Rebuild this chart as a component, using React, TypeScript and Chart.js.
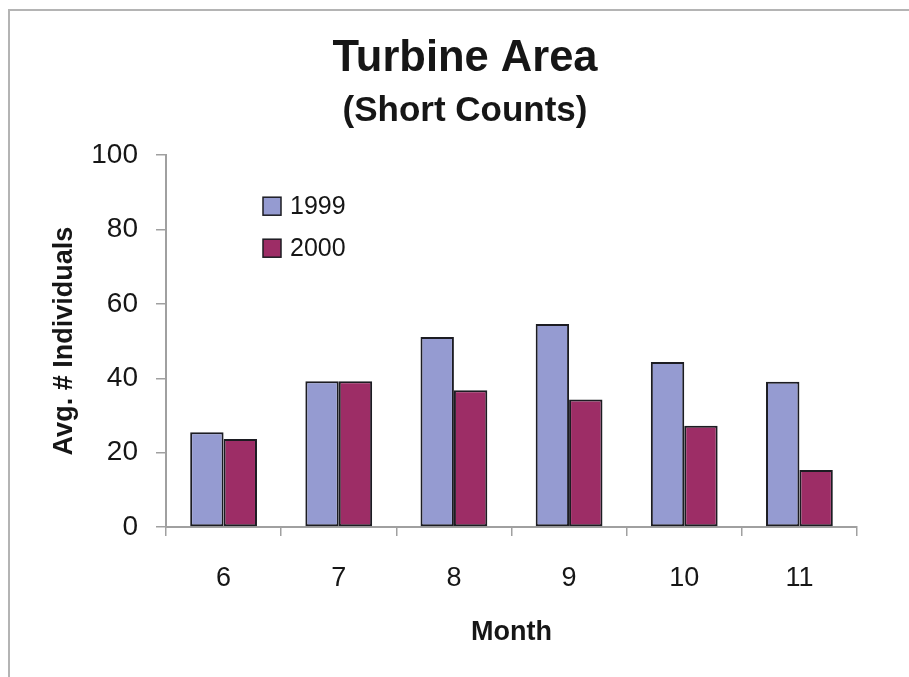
import React, { useEffect, useRef } from "react";
import { Chart, registerables } from "chart.js";

Chart.register(...registerables);

const months = ["6", "7", "8", "9", "10", "11"];
const series1999 = [25.5, 39.2, 51.1, 54.6, 44.4, 39.1];
const series2000 = [23.7, 39.2, 36.8, 34.3, 27.2, 15.3];
const seriesLabels = ["1999", "2000"];
const yTicks = [0, 20, 40, 60, 80, 100];

const FONT = "'Liberation Sans', Arial, Helvetica, sans-serif";
const COLOR_1999 = "#959BD1";
const COLOR_2000 = "#9D2D66";
const BAR_EDGE = "#1c1c22";
const AXIS = "#a0a0a0";
const TEXT = "#161616";

const framePlugin = {
  id: "frame",
  beforeDraw(chart: any) {
    const { ctx, width, height } = chart;
    ctx.save();
    ctx.fillStyle = "#ffffff";
    ctx.fillRect(0, 0, width, height);
    ctx.strokeStyle = "#b4b4b4";
    ctx.lineWidth = 2;
    ctx.beginPath();
    ctx.moveTo(9, height);
    ctx.lineTo(9, 10);
    ctx.lineTo(width, 10);
    ctx.stroke();
    ctx.restore();
  },
};

const legendPlugin = {
  id: "insideLegend",
  afterDraw(chart: any) {
    const { ctx, chartArea } = chart;
    const x0 = chartArea.left + 97;
    const y0 = chartArea.top + 51;
    const rowGap = 42;
    ctx.save();
    ctx.font = `25px ${FONT}`;
    ctx.textBaseline = "middle";
    ctx.textAlign = "left";
    chart.data.datasets.forEach((ds: any, i: number) => {
      const cy = y0 + i * rowGap;
      ctx.fillStyle = ds.backgroundColor;
      ctx.fillRect(x0, cy - 9, 18, 18);
      ctx.strokeStyle = BAR_EDGE;
      ctx.lineWidth = 1.5;
      ctx.strokeRect(x0, cy - 9, 18, 18);
      ctx.fillStyle = TEXT;
      ctx.fillText(ds.label, x0 + 27, cy + 1);
    });
    ctx.restore();
  },
};

export default function App() {
  const ref = useRef<HTMLCanvasElement | null>(null);

  useEffect(() => {
    if (!ref.current) return;
    const chart = new Chart(ref.current, {
      type: "bar",
      data: {
        labels: months,
        datasets: [
          {
            label: seriesLabels[0],
            data: series1999,
            backgroundColor: COLOR_1999,
            borderColor: BAR_EDGE,
            borderWidth: 2,
            borderSkipped: false,
          },
          {
            label: seriesLabels[1],
            data: series2000,
            backgroundColor: COLOR_2000,
            borderColor: BAR_EDGE,
            borderWidth: 2,
            borderSkipped: false,
          },
        ],
      },
      options: {
        responsive: false,
        animation: false,
        devicePixelRatio: 1,
        layout: { padding: { top: 0, right: 0, bottom: 0, left: 21 } },
        datasets: {
          bar: { categoryPercentage: 0.58, barPercentage: 1 },
        },
        plugins: {
          legend: { display: false },
          tooltip: { enabled: false },
          title: {
            display: true,
            text: "Turbine Area",
            color: TEXT,
            font: { family: FONT, size: 43.5, weight: "bold", lineHeight: 1.2 },
            padding: { top: 33, bottom: 5 },
          },
          subtitle: {
            display: true,
            text: "(Short Counts)",
            color: TEXT,
            font: { family: FONT, size: 35, weight: "bold", lineHeight: 1.2 },
            padding: { top: 0, bottom: 23 },
          },
        },
        scales: {
          x: {
            offset: true,
            grid: {
              offset: true,
              drawOnChartArea: false,
              drawTicks: true,
              tickLength: 9,
              color: AXIS,
              lineWidth: 1.5,
            },
            border: { display: true, color: AXIS, width: 2 },
            ticks: {
              color: TEXT,
              padding: 26,
              font: { family: FONT, size: 27 },
            },
            title: {
              display: true,
              text: "Month",
              color: TEXT,
              font: { family: FONT, size: 27, weight: "bold", lineHeight: 1.2 },
              padding: { top: 0, bottom: 28 },
            },
            afterFit(scale: any) {
              scale.height = 150;
            },
          },
          y: {
            min: 0,
            max: 100,
            afterBuildTicks(scale: any) {
              scale.ticks = yTicks.map((v) => ({ value: v }));
            },
            grid: {
              drawOnChartArea: false,
              drawTicks: true,
              tickLength: 10,
              color: AXIS,
              lineWidth: 1.5,
            },
            border: { display: true, color: AXIS, width: 2 },
            ticks: {
              color: TEXT,
              padding: 18,
              font: { family: FONT, size: 28 },
            },
            title: {
              display: true,
              text: "Avg. # Individuals",
              color: TEXT,
              font: { family: FONT, size: 27, weight: "bold", lineHeight: 1.2 },
              padding: { top: 27, bottom: 0 },
            },
            afterFit(scale: any) {
              scale.width = 145;
            },
          },
          yRightSpacer: {
            type: "linear",
            position: "right",
            display: true,
            grid: { display: false, drawTicks: false },
            border: { display: false },
            ticks: { display: false },
            title: { display: false },
            afterFit(scale: any) {
              scale.width = 52;
            },
          },
        },
      },
      plugins: [framePlugin, legendPlugin],
    });
    return () => chart.destroy();
  }, []);

  return (
    <div style={{ position: "fixed", left: 0, top: 0, width: 909, height: 677, background: "#fff" }}>
      <canvas ref={ref} width={909} height={677} style={{ display: "block", width: 909, height: 677 }} />
    </div>
  );
}
